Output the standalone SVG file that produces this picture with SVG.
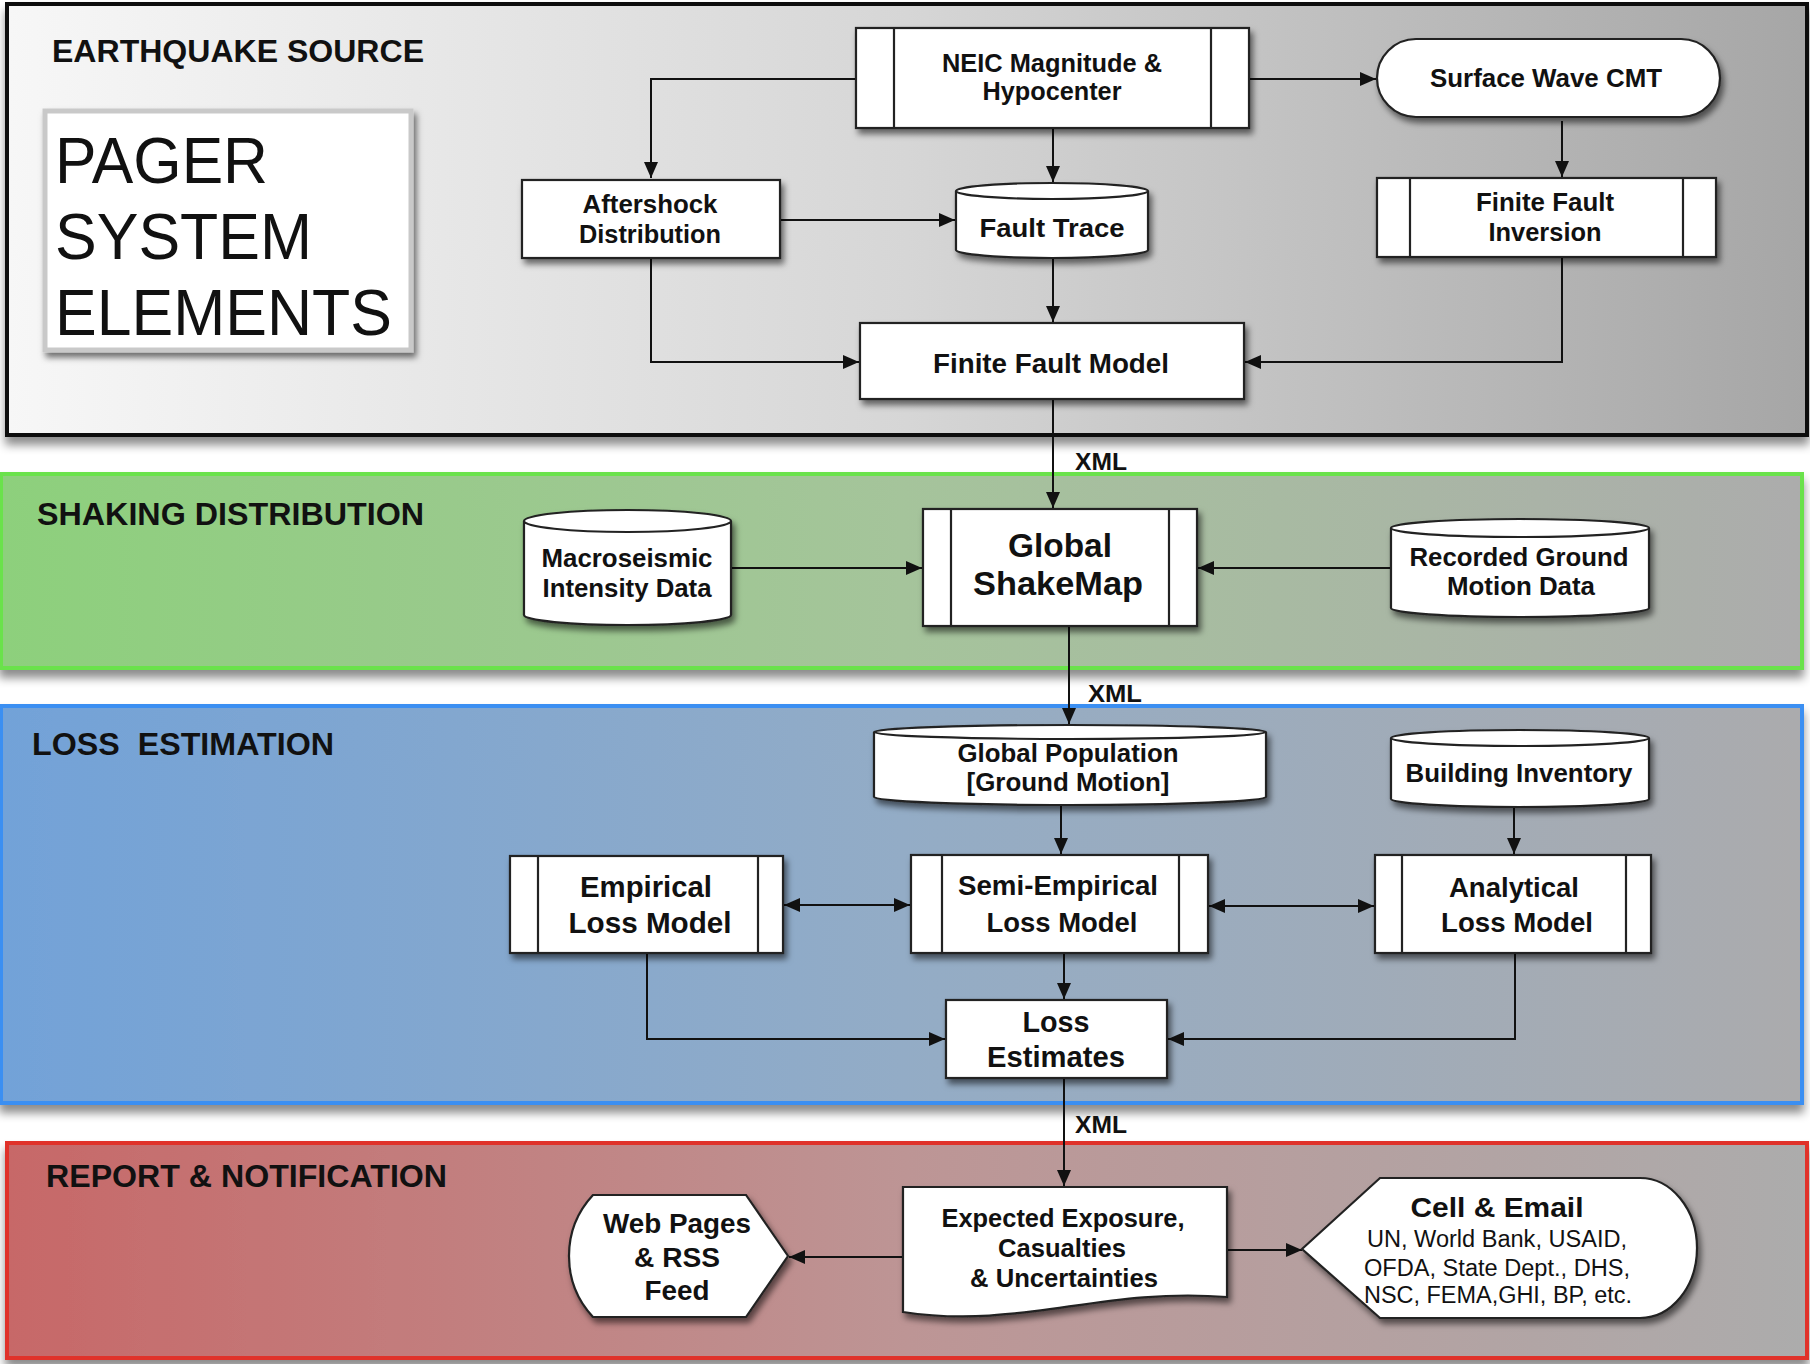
<svg xmlns="http://www.w3.org/2000/svg" width="1810" height="1364" viewBox="0 0 1810 1364">
<style>
text{font-family:"Liberation Sans",Arial,Helvetica,sans-serif;fill:#111}
.b{font-weight:bold}
.t{font-weight:bold;font-size:32px}
.n{fill:#fff;stroke:#222;stroke-width:2.2}
.ln{stroke:#222;stroke-width:2.2;fill:none}
.c{fill:none;stroke:#111;stroke-width:2}
.m{text-anchor:middle;font-weight:bold}
</style>
<defs>
<linearGradient id="g1" x1="0" x2="1" y1="0" y2="0"><stop offset="0" stop-color="#f7f7f7"/><stop offset="0.5" stop-color="#d6d6d6"/><stop offset="1" stop-color="#a6a6a6"/></linearGradient>
<linearGradient id="g2" x1="0" x2="1" y1="0" y2="0"><stop offset="0" stop-color="#8dd07c"/><stop offset="0.5" stop-color="#a5c49b"/><stop offset="1" stop-color="#acacac"/></linearGradient>
<linearGradient id="g3" x1="0" x2="1" y1="0" y2="0"><stop offset="0" stop-color="#72a2d8"/><stop offset="0.5" stop-color="#93acc6"/><stop offset="1" stop-color="#ababad"/></linearGradient>
<linearGradient id="g4" x1="0" x2="1" y1="0" y2="0"><stop offset="0" stop-color="#c76868"/><stop offset="0.5" stop-color="#bd9595"/><stop offset="1" stop-color="#acacac"/></linearGradient>
<filter id="sh" x="-10%" y="-10%" width="130%" height="140%"><feDropShadow dx="3" dy="5" stdDeviation="3" flood-color="#000" flood-opacity="0.55"/></filter>
<filter id="psh" x="-5%" y="-5%" width="110%" height="120%"><feDropShadow dx="0" dy="8" stdDeviation="5" flood-color="#000" flood-opacity="0.45"/></filter>
<marker id="ah" viewBox="0 0 16 14" refX="16" refY="7" markerWidth="16" markerHeight="14" markerUnits="userSpaceOnUse" orient="auto-start-reverse"><path d="M0,0 L16,7 L0,14 Z" fill="#111"/></marker>
</defs>
<rect width="1810" height="1364" fill="#fff"/>

<g id="panels">
<rect id="panel-source" x="7" y="4" width="1800" height="431" fill="url(#g1)" stroke="#111" stroke-width="4" filter="url(#psh)"/>
<rect id="panel-shaking" x="1" y="474" width="1801" height="194" fill="url(#g2)" stroke="#6ae24c" stroke-width="4" filter="url(#psh)"/>
<rect id="panel-loss" x="1" y="706" width="1801" height="397" fill="url(#g3)" stroke="#3b8ff2" stroke-width="4" filter="url(#psh)"/>
<rect id="panel-report" x="7" y="1143" width="1800" height="215" fill="url(#g4)" stroke="#e0332b" stroke-width="4" filter="url(#psh)"/>
<text class="t" x="52" y="62" textLength="372" lengthAdjust="spacingAndGlyphs">EARTHQUAKE SOURCE</text>
<text class="t" x="37" y="525" textLength="387" lengthAdjust="spacingAndGlyphs">SHAKING DISTRIBUTION</text>
<text class="t" x="32" y="755" textLength="302" lengthAdjust="spacingAndGlyphs">LOSS&#160; ESTIMATION</text>
<text class="t" x="46" y="1187" textLength="401" lengthAdjust="spacingAndGlyphs">REPORT &amp; NOTIFICATION</text>
</g>

<g id="title">
<rect x="45" y="111" width="366" height="239" fill="#fff" stroke="#c9c9c9" stroke-width="5" filter="url(#sh)"/>
<text x="55" y="183" font-size="64" textLength="213" lengthAdjust="spacingAndGlyphs">PAGER</text>
<text x="55" y="259" font-size="64" textLength="257" lengthAdjust="spacingAndGlyphs">SYSTEM</text>
<text x="55" y="335" font-size="64" textLength="337" lengthAdjust="spacingAndGlyphs">ELEMENTS</text>
</g>

<g id="connectors">
<path class="c" d="M856,79 H651 V178" marker-end="url(#ah)"/>
<path class="c" d="M1053,128 V182" marker-end="url(#ah)"/>
<path class="c" d="M1250,79 H1376" marker-end="url(#ah)"/>
<path class="c" d="M1562,121 V177" marker-end="url(#ah)"/>
<path class="c" d="M780,220 H955" marker-end="url(#ah)"/>
<path class="c" d="M1053,259 V322" marker-end="url(#ah)"/>
<path class="c" d="M651,258 V362 H859" marker-end="url(#ah)"/>
<path class="c" d="M1562,257 V362 H1245" marker-end="url(#ah)"/>
<path class="c" d="M1053,399 V508" marker-end="url(#ah)"/>
<path class="c" d="M731,568 H922" marker-end="url(#ah)"/>
<path class="c" d="M1391,568 H1198" marker-end="url(#ah)"/>
<path class="c" d="M1069,626 V724" marker-end="url(#ah)"/>
<path class="c" d="M1061,805 V854" marker-end="url(#ah)"/>
<path class="c" d="M1514,807 V854" marker-end="url(#ah)"/>
<path class="c" d="M784,905 H910" marker-start="url(#ah)" marker-end="url(#ah)"/>
<path class="c" d="M1209,906 H1374" marker-start="url(#ah)" marker-end="url(#ah)"/>
<path class="c" d="M1064,953 V999" marker-end="url(#ah)"/>
<path class="c" d="M647,953 V1039 H945" marker-end="url(#ah)"/>
<path class="c" d="M1515,953 V1039 H1168" marker-end="url(#ah)"/>
<path class="c" d="M1064,1078 V1186" marker-end="url(#ah)"/>
<path class="c" d="M903,1257 H789" marker-end="url(#ah)"/>
<path class="c" d="M1227,1250 H1302" marker-end="url(#ah)"/>
<text class="b" x="1075" y="470" font-size="24" textLength="52" lengthAdjust="spacingAndGlyphs">XML</text>
<text class="b" x="1088" y="702" font-size="24" textLength="54" lengthAdjust="spacingAndGlyphs">XML</text>
<text class="b" x="1075" y="1133" font-size="24" textLength="52" lengthAdjust="spacingAndGlyphs">XML</text>
</g>

<g id="neic">
<rect class="n" x="856" y="28" width="393" height="100" filter="url(#sh)"/>
<path class="ln" d="M894,28 V128 M1211,28 V128"/>
<text class="m" x="1052" y="72" font-size="25" textLength="220" lengthAdjust="spacingAndGlyphs">NEIC Magnitude &amp;</text>
<text class="m" x="1052" y="100" font-size="25" textLength="139" lengthAdjust="spacingAndGlyphs">Hypocenter</text>
</g>

<g id="surface-wave">
<rect class="n" x="1377" y="39" width="343" height="78" rx="39" ry="39" filter="url(#sh)"/>
<text class="m" x="1546" y="87" font-size="25" textLength="232" lengthAdjust="spacingAndGlyphs">Surface Wave CMT</text>
</g>

<g id="aftershock">
<rect class="n" x="522" y="180" width="258" height="78" filter="url(#sh)"/>
<text class="m" x="650" y="213" font-size="25" textLength="135" lengthAdjust="spacingAndGlyphs">Aftershock</text>
<text class="m" x="650" y="243" font-size="25" textLength="142" lengthAdjust="spacingAndGlyphs">Distribution</text>
</g>

<g id="fault-trace">
<path class="n" d="M956,191 A96,8 0 0 1 1148,191 L1148,250 A96,8 0 0 1 956,250 Z" filter="url(#sh)"/>
<path class="ln" d="M956,191 A96,8 0 0 0 1148,191"/>
<text class="m" x="1052" y="237" font-size="26" textLength="145" lengthAdjust="spacingAndGlyphs">Fault Trace</text>
</g>

<g id="finite-fault-inversion">
<rect class="n" x="1377" y="178" width="339" height="79" filter="url(#sh)"/>
<path class="ln" d="M1410,178 V257 M1683,178 V257"/>
<text class="m" x="1545" y="211" font-size="25" textLength="138" lengthAdjust="spacingAndGlyphs">Finite Fault</text>
<text class="m" x="1545" y="241" font-size="25" textLength="113" lengthAdjust="spacingAndGlyphs">Inversion</text>
</g>

<g id="finite-fault-model">
<rect class="n" x="860" y="323" width="384" height="76" filter="url(#sh)"/>
<text class="m" x="1051" y="373" font-size="27" textLength="236" lengthAdjust="spacingAndGlyphs">Finite Fault Model</text>
</g>

<g id="macroseismic">
<path class="n" d="M524,521 A103.5,11 0 0 1 731,521 L731,615 A103.5,10 0 0 1 524,615 Z" filter="url(#sh)"/>
<path class="ln" d="M524,521 A103.5,11 0 0 0 731,521"/>
<text class="m" x="627" y="567" font-size="25.5" textLength="171" lengthAdjust="spacingAndGlyphs">Macroseismic</text>
<text class="m" x="627" y="597" font-size="25.5" textLength="169" lengthAdjust="spacingAndGlyphs">Intensity Data</text>
</g>

<g id="global-shakemap">
<rect class="n" x="923" y="509" width="274" height="117" filter="url(#sh)"/>
<path class="ln" d="M951,509 V626 M1169,509 V626"/>
<text class="m" x="1060" y="557" font-size="33" textLength="104" lengthAdjust="spacingAndGlyphs">Global</text>
<text class="m" x="1058" y="595" font-size="33" textLength="170" lengthAdjust="spacingAndGlyphs">ShakeMap</text>
</g>

<g id="recorded-ground-motion">
<path class="n" d="M1391,528 A129,9 0 0 1 1649,528 L1649,608 A129,9 0 0 1 1391,608 Z" filter="url(#sh)"/>
<path class="ln" d="M1391,528 A129,9 0 0 0 1649,528"/>
<text class="m" x="1519" y="566" font-size="25.5" textLength="219" lengthAdjust="spacingAndGlyphs">Recorded Ground</text>
<text class="m" x="1521" y="595" font-size="25.5" textLength="148" lengthAdjust="spacingAndGlyphs">Motion Data</text>
</g>

<g id="global-population">
<path class="n" d="M874,732 A196,7 0 0 1 1266,732 L1266,797 A196,8 0 0 1 874,797 Z" filter="url(#sh)"/>
<path class="ln" d="M874,732 A196,7 0 0 0 1266,732"/>
<text class="m" x="1068" y="762" font-size="25.5" textLength="221" lengthAdjust="spacingAndGlyphs">Global Population</text>
<text class="m" x="1068" y="791" font-size="25.5" textLength="203" lengthAdjust="spacingAndGlyphs">[Ground Motion]</text>
</g>

<g id="building-inventory">
<path class="n" d="M1391,738 A129,8 0 0 1 1649,738 L1649,799 A129,8 0 0 1 1391,799 Z" filter="url(#sh)"/>
<path class="ln" d="M1391,738 A129,8 0 0 0 1649,738"/>
<text class="m" x="1519" y="782" font-size="25.5" textLength="227" lengthAdjust="spacingAndGlyphs">Building Inventory</text>
</g>

<g id="empirical">
<rect class="n" x="510" y="856" width="273" height="97" filter="url(#sh)"/>
<path class="ln" d="M538,856 V953 M758,856 V953"/>
<text class="m" x="646" y="897" font-size="29.5" textLength="132" lengthAdjust="spacingAndGlyphs">Empirical</text>
<text class="m" x="650" y="933" font-size="29.5" textLength="163" lengthAdjust="spacingAndGlyphs">Loss Model</text>
</g>

<g id="semi-empirical">
<rect class="n" x="911" y="855" width="297" height="98" filter="url(#sh)"/>
<path class="ln" d="M942,855 V953 M1179,855 V953"/>
<text class="m" x="1058" y="895" font-size="27.5" textLength="200" lengthAdjust="spacingAndGlyphs">Semi-Empirical</text>
<text class="m" x="1062" y="932" font-size="27.5" textLength="151" lengthAdjust="spacingAndGlyphs">Loss Model</text>
</g>

<g id="analytical">
<rect class="n" x="1375" y="855" width="276" height="98" filter="url(#sh)"/>
<path class="ln" d="M1402,855 V953 M1626,855 V953"/>
<text class="m" x="1514" y="897" font-size="27.5" textLength="130" lengthAdjust="spacingAndGlyphs">Analytical</text>
<text class="m" x="1517" y="932" font-size="27.5" textLength="152" lengthAdjust="spacingAndGlyphs">Loss Model</text>
</g>

<g id="loss-estimates">
<rect class="n" x="946" y="1000" width="221" height="78" filter="url(#sh)"/>
<text class="m" x="1056" y="1032" font-size="29" textLength="67" lengthAdjust="spacingAndGlyphs">Loss</text>
<text class="m" x="1056" y="1067" font-size="29" textLength="138" lengthAdjust="spacingAndGlyphs">Estimates</text>
</g>

<g id="web-pages">
<path class="n" d="M593,1195 L746,1195 L788,1256 L746,1317 L593,1317 A89.5,89.5 0 0 1 593,1195 Z" filter="url(#sh)"/>
<text class="m" x="677" y="1233" font-size="27" textLength="148" lengthAdjust="spacingAndGlyphs">Web Pages</text>
<text class="m" x="677" y="1267" font-size="27" textLength="86" lengthAdjust="spacingAndGlyphs">&amp; RSS</text>
<text class="m" x="677" y="1300" font-size="27" textLength="65" lengthAdjust="spacingAndGlyphs">Feed</text>
</g>

<g id="expected-exposure">
<path class="n" d="M903,1187 H1227 V1297 C1100,1287 1020,1330 903,1312 Z" filter="url(#sh)"/>
<text class="m" x="1063" y="1227" font-size="25" textLength="243" lengthAdjust="spacingAndGlyphs">Expected Exposure,</text>
<text class="m" x="1062" y="1257" font-size="25" textLength="128" lengthAdjust="spacingAndGlyphs">Casualties</text>
<text class="m" x="1064" y="1287" font-size="25" textLength="188" lengthAdjust="spacingAndGlyphs">&amp; Uncertainties</text>
</g>

<g id="cell-email">
<path class="n" d="M1302,1249 L1380,1178 L1640,1178 A57,70 0 0 1 1640,1318 L1380,1318 Z" filter="url(#sh)"/>
<text class="m" x="1497" y="1217" font-size="28" textLength="173" lengthAdjust="spacingAndGlyphs">Cell &amp; Email</text>
<text x="1497" y="1247" font-size="23" text-anchor="middle" textLength="260" lengthAdjust="spacingAndGlyphs">UN, World Bank, USAID,</text>
<text x="1497" y="1276" font-size="23" text-anchor="middle" textLength="266" lengthAdjust="spacingAndGlyphs">OFDA, State Dept., DHS,</text>
<text x="1498" y="1303" font-size="23" text-anchor="middle" textLength="268" lengthAdjust="spacingAndGlyphs">NSC, FEMA,GHI, BP, etc.</text>
</g>
</svg>
